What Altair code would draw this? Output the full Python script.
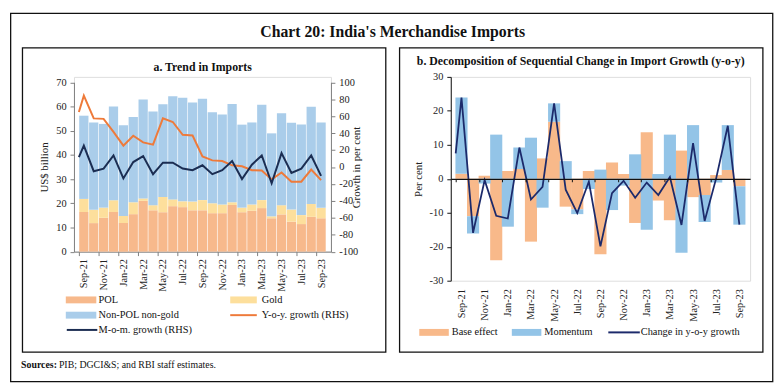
import altair as alt
import pandas as pd

# ---------------- data ----------------
months = ["Sep-21", "Oct-21", "Nov-21", "Dec-21", "Jan-22", "Feb-22", "Mar-22", "Apr-22",
          "May-22", "Jun-22", "Jul-22", "Aug-22", "Sep-22", "Oct-22", "Nov-22", "Dec-22",
          "Jan-23", "Feb-23", "Mar-23", "Apr-23", "May-23", "Jun-23", "Jul-23", "Aug-23", "Sep-23"]

# panel a (US$ billion)
pol = [16.4, 11.8, 14.0, 16.4, 11.8, 15.5, 21.0, 17.1, 16.3, 18.8, 18.4, 17.1, 17.1,
       15.9, 15.9, 19.3, 16.3, 16.9, 18.0, 13.8, 15.4, 12.4, 11.4, 14.4, 13.8]
gold = [5.4, 5.5, 4.2, 4.8, 2.9, 4.9, 1.0, 2.1, 6.3, 2.8, 2.4, 3.6, 4.2,
        4.1, 3.6, 1.1, 1.9, 2.6, 3.3, 0.8, 3.8, 5.0, 3.7, 5.3, 4.3]
non_pol_non_gold = [34.4, 36.1, 34.6, 38.8, 37.5, 35.3, 40.9, 38.7, 38.3, 42.6, 42.8, 41.0, 41.9,
                    37.6, 37.2, 40.6, 34.3, 33.9, 39.4, 34.3, 38.0, 35.9, 37.5, 40.2, 35.3]

# line series (per cent); first value sits at the left edge of the axis
line_pos = [-0.5] + list(range(25))
yoy_growth = [65.0, 84.2, 57.4, 56.8, 41.5, 25.2, 36.9, 29.1, 26.4, 57.4, 53.1, 38.0, 37.2,
              12.4, 7.8, 7.0, 2.0, 0.8, -3.8, -4.2, -14.7, -6.5, -17.4, -17.4, -3.0, -15.5]
mom_growth = [11.6, 25.2, -5.0, -1.9, 13.6, -13.5, 5.8, 12.8, -8.5, 5.1, 5.1, -1.9, -3.8,
              2.0, -8.5, -3.8, 7.0, -14.3, 2.7, 13.6, -19.3, 16.3, -7.0, -1.9, 13.6, -10.5]

# panel b (per cent)
base_effect = [1.5, -11.0, 0.9, -24.0, 2.3, 2.9, -18.5, 6.0, 16.8, -8.2, -9.0, 2.3, -22.2,
               4.8, 1.4, -13.0, 13.7, -6.4, -12.2, 8.3, -5.4, -4.8, 1.1, 2.6, -2.2]
momentum = [22.4, -5.1, -1.4, 13.0, -14.1, 6.3, 12.1, -8.5, 5.4, 5.2, -1.4, -3.0, 2.7,
            -9.2, -2.0, 7.2, -15.0, 1.4, 13.0, -21.8, 15.8, -7.9, -1.1, 13.2, -11.3]
change_yoy = [7.5, 23.9, -15.9, -0.4, -10.9, -11.7, 9.2, -6.1, -2.4, 22.2, -3.2, -10.1, -0.8,
              -19.9, -4.2, -0.6, -5.6, -1.1, -4.8, 0.5, -13.6, 10.5, -12.4, 0.2, 15.6, -13.5]

# ---------------- tables ----------------
n = len(months)
idx = list(range(n))
a_series = ["POL", "Gold", "Non-POL non-gold"]
bars_a = pd.DataFrame({
    "i": idx * 3,
    "series": [s for s in a_series for _ in idx],
    "ord": [k for k in range(3) for _ in idx],
    "value": pol + gold + non_pol_non_gold,
})
l_series = ["Y-o-y. growth (RHS)", "M-o-m. growth (RHS)"]
lines_a = pd.DataFrame({
    "pos": line_pos * 2,
    "series": [s for s in l_series for _ in line_pos],
    "value": yoy_growth + mom_growth,
})
b_series = ["Base effect", "Momentum"]
bars_b = pd.DataFrame({
    "i": idx * 2,
    "component": [s for s in b_series for _ in idx],
    "ord": [k for k in range(2) for _ in idx],
    "value": base_effect + momentum,
})
line_b = pd.DataFrame({"pos": line_pos, "value": change_yoy})
ONE = pd.DataFrame({"k": [0]})

# ---------------- styling ----------------
FONT = "Liberation Serif"
C_POL, C_GOLD, C_NPNG = "#F7B98C", "#FDDF9C", "#AACDEA"
C_YOY, C_MOM = "#EE7A3A", "#1B2D52"
C_BASE, C_MOMB, C_CHG = "#F8B98A", "#93C4E7", "#1C2A6B"
GREY = "#7F7F7F"

months_js = "[" + ",".join("'" + m + "'" for m in months) + "]"
label_expr = months_js + "[datum.value]"
tick_vals = [-0.5 + 2 * k for k in range(13)]
label_vals = list(range(0, n, 2))

W_L, H_L = 261, 177.5
W_R, H_R = 304, 207
TOP_L = 5.5

AX = dict(labelFont=FONT, titleFont=FONT, labelFontSize=10.5, titleFontSize=11,
          titleFontWeight="normal", labelColor="#222", titleColor="#222", grid=False)


def txt(x, y, s, size=10.5, weight="normal", align="left", baseline="middle"):
    return alt.Chart(ONE).mark_text(
        font=FONT, fontSize=size, fontWeight=weight, align=align, baseline=baseline, color="#111"
    ).encode(x=alt.value(x), y=alt.value(y), text=alt.value(s))


def box(x1, x2, y1, y2, w=1.3):
    return alt.Chart(ONE).mark_rect(fillOpacity=0, stroke="#111", strokeWidth=w).encode(
        x=alt.value(x1), x2=alt.value(x2), y=alt.value(y1), y2=alt.value(y2))


def swatch(x1, x2, yc, color, h=7):
    return alt.Chart(ONE).mark_rect(color=color).encode(
        x=alt.value(x1), x2=alt.value(x2), y=alt.value(yc - h / 2), y2=alt.value(yc + h / 2))


def legline(x1, x2, yc, color, w=2):
    return alt.Chart(ONE).mark_rule(color=color, strokeWidth=w).encode(
        x=alt.value(x1), x2=alt.value(x2), y=alt.value(yc))


# ---------------- panel a ----------------
xs_a = alt.Scale(domain=[-0.5, 24.5], nice=False, zero=False)

bars_L = alt.Chart(bars_a).mark_bar(width=9.4).encode(
    x=alt.X("i:Q", scale=xs_a, axis=alt.Axis(
        orient="bottom", values=tick_vals, labels=False, ticks=True, tickSize=4,
        domainColor=GREY, tickColor=GREY, title=None, **AX)),
    y=alt.Y("value:Q", stack="zero",
            scale=alt.Scale(domain=[0, 70], range=[H_L, TOP_L], nice=False, zero=True),
            axis=alt.Axis(orient="left", values=list(range(0, 71, 10)),
                          domainColor=GREY, tickColor=GREY, tickSize=4, labelPadding=4,
                          title="US$ billion", titlePadding=6, **AX)),
    color=alt.Color("series:N", scale=alt.Scale(domain=a_series, range=[C_POL, C_GOLD, C_NPNG]),
                    legend=None),
    order=alt.Order("ord:Q"),
)

lines_L = alt.Chart(lines_a).mark_line(strokeWidth=2).encode(
    x=alt.X("pos:Q", scale=xs_a, axis=alt.Axis(
        orient="bottom", values=label_vals, labelExpr=label_expr, labelAngle=-90,
        ticks=False, tickSize=0, domain=False, labelPadding=7, title=None, **AX)),
    y=alt.Y("value:Q", scale=alt.Scale(domain=[-100, 100], range=[H_L, TOP_L], nice=False),
            axis=alt.Axis(orient="right", values=list(range(-100, 101, 20)),
                          labelExpr="datum.value + ''", domainColor=GREY, tickColor=GREY,
                          tickSize=4, labelPadding=4, title="Growth in per cent",
                          titleAngle=270, titlePadding=4, **AX)),
    stroke=alt.Stroke("series:N", scale=alt.Scale(domain=l_series, range=[C_YOY, C_MOM]),
                      legend=None),
)

# offsets relative to panel-a plot origin
deco_L = [
    box(-64.3, 709.7, -64.5, 309.5),
    box(-52.3, 316.7, -29.5, 279.5),
    txt(323.7, -41, "Chart 20: India's Merchandise Imports", size=16, weight="bold",
        align="center", baseline="alphabetic"),
    txt(130.7, -5.5, "a. Trend in Imports", size=12, weight="bold", align="center",
        baseline="alphabetic"),
    swatch(-8.3, 22.7, 226.5, C_POL),
    txt(25, 226.5, "POL"),
    swatch(158.7, 185.7, 226.5, C_GOLD),
    txt(190.7, 226.5, "Gold"),
    swatch(-8.3, 22.7, 242, C_NPNG),
    txt(25, 242, "Non-POL non-gold"),
    legline(158.7, 185.7, 242, C_YOY),
    txt(190.7, 242, "Y-o-y. growth (RHS)"),
    legline(-7.3, 23.7, 257, C_MOM),
    txt(25, 257, "M-o-m. growth (RHS)"),
    txt(-17.3, 295.5, "Sources:", size=10, weight="bold", align="right", baseline="alphabetic"),
    txt(-15.3, 295.5, "PIB; DGCI&S; and RBI staff estimates.", size=10, baseline="alphabetic"),
]

left = alt.layer(bars_L, lines_L, *deco_L).resolve_scale(y="independent").resolve_axis(
    x="independent").properties(width=W_L, height=H_L)

# ---------------- panel b ----------------
xs_b = alt.Scale(domain=[-0.5, 24.5], nice=False, zero=False)
ys_b = alt.Scale(domain=[-30, 30], nice=False)
yaxis_b = alt.Axis(orient="left", values=list(range(-30, 31, 10)),
                   labelExpr="datum.value + ''", domainColor="#111", tickColor="#111",
                   tickSize=4, labelPadding=4, title="Per cent", titlePadding=6, **AX)

bars_R = alt.Chart(bars_b).mark_bar(width=12.3).encode(
    x=alt.X("i:Q", scale=xs_b, axis=alt.Axis(
        orient="bottom", offset=-H_R / 2, values=tick_vals, labels=False, ticks=True,
        tickSize=3, domainColor="#111", tickColor="#111", domainWidth=1.3, zindex=1,
        title=None, **AX)),
    y=alt.Y("value:Q", stack="zero", scale=ys_b, axis=yaxis_b),
    color=alt.Color("component:N", scale=alt.Scale(domain=b_series, range=[C_BASE, C_MOMB]),
                    legend=None),
    order=alt.Order("ord:Q"),
)

line_R = alt.Chart(line_b).mark_line(color=C_CHG, strokeWidth=1.8).encode(
    x=alt.X("pos:Q", scale=xs_b, axis=alt.Axis(
        orient="bottom", values=label_vals, labelExpr=label_expr, labelAngle=-90,
        ticks=False, tickSize=0, domain=False, labelPadding=8, title=None, **AX)),
    y=alt.Y("value:Q", scale=ys_b, axis=yaxis_b),
)

deco_R = [
    box(-52, 317, -29.5, 279.5),
    txt(132, -12.5, "b. Decomposition of Sequential Change in Import Growth (y-o-y)", size=12,
        weight="bold", align="center", baseline="alphabetic"),
    swatch(-32, -2, 259.5, C_BASE),
    txt(1, 259.5, "Base effect"),
    swatch(62, 92, 259.5, C_MOMB),
    txt(95, 259.5, "Momentum"),
    legline(160, 192, 259.5, C_CHG),
    txt(193, 259.5, "Change in y-o-y growth"),
]

right = alt.layer(bars_R, line_R, *deco_R).resolve_axis(x="independent").properties(
    width=W_R, height=H_R)

chart = alt.hconcat(left, right, spacing=121.7, bounds="flush").resolve_scale(
    color="independent", stroke="independent", x="independent", y="independent"
).properties(
    padding={"left": 1, "top": 1, "right": 1, "bottom": 1}
).configure_view(stroke="transparent").configure(background="white")

chart.save("out.html", embed_options={"renderer": "svg", "actions": False})
